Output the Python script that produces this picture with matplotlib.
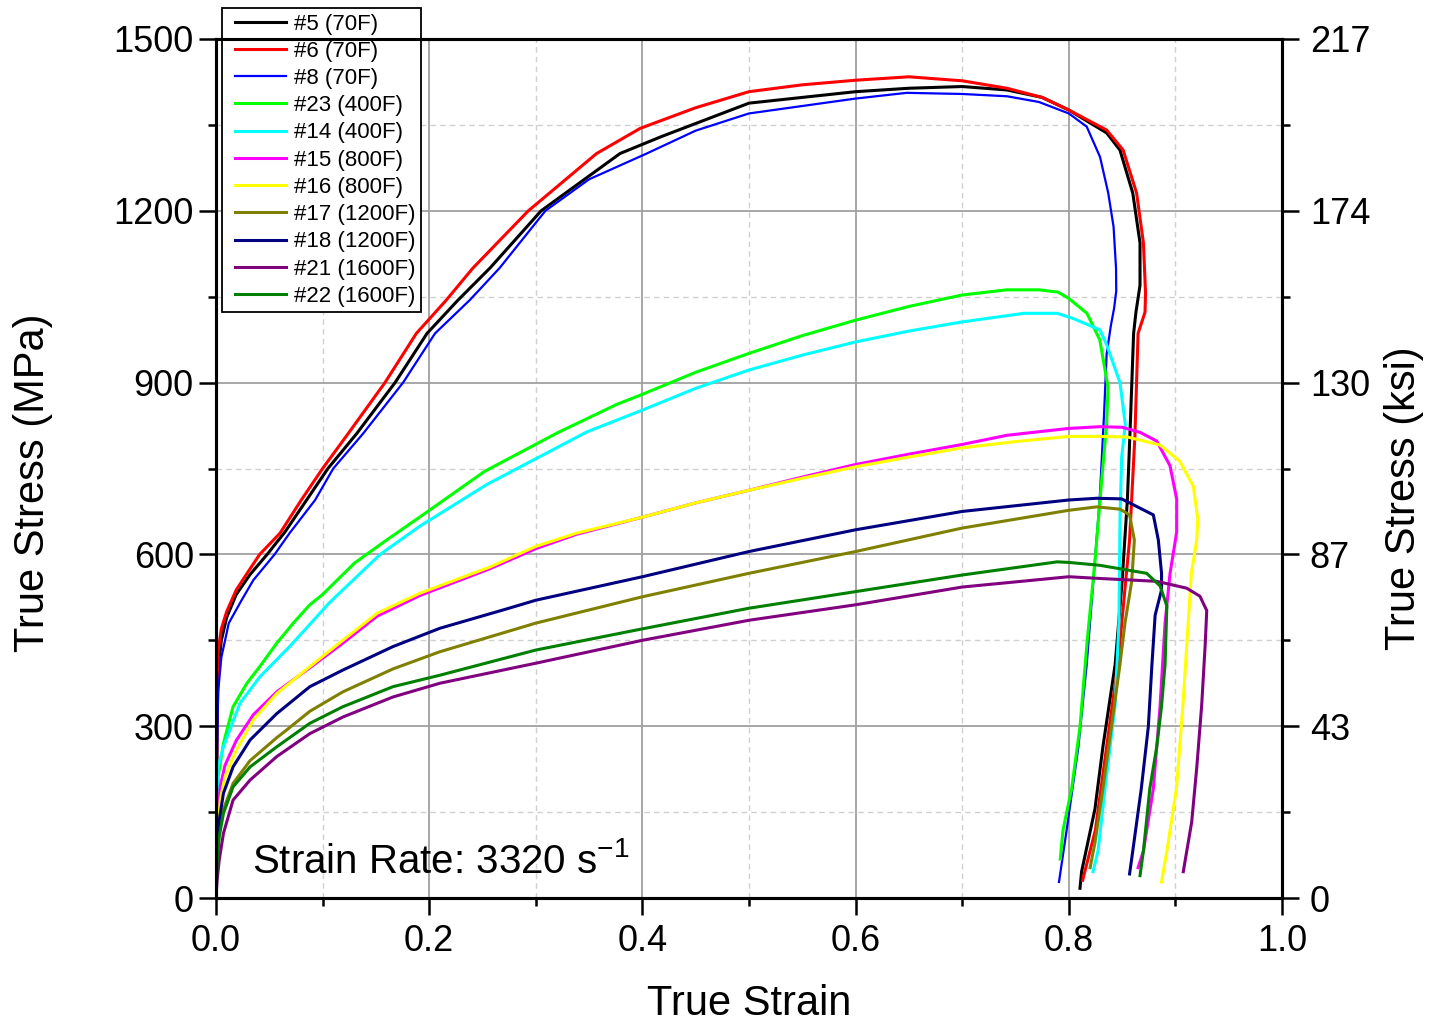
import matplotlib
matplotlib.use("Agg")
import matplotlib.pyplot as plt
from matplotlib.ticker import MultipleLocator, FixedLocator, FixedFormatter
from matplotlib.legend_handler import HandlerLine2D

plt.rcParams['font.family'] = ['Liberation Sans', 'DejaVu Sans']
plt.rcParams['mathtext.default'] = 'regular'
plt.rcParams['axes.unicode_minus'] = False

# ---- data (true strain, true stress MPa) ----
labels = ["#5 (70F)", "#6 (70F)", "#8 (70F)", "#23 (400F)", "#14 (400F)", "#15 (800F)",
          "#16 (800F)", "#17 (1200F)", "#18 (1200F)", "#21 (1600F)", "#22 (1600F)"]
colors = ["#000000", "#ff0000", "#0000ff", "#00ff00", "#00ffff", "#ff00ff",
          "#ffff00", "#808000", "#000080", "#800080", "#008000"]

s5 = [0, 0.001, 0.002, 0.005, 0.010, 0.019, 0.032, 0.048, 0.065, 0.085,
      0.105, 0.132, 0.168, 0.198, 0.227, 0.257, 0.305, 0.379, 0.417, 0.5,
      0.6, 0.65, 0.7, 0.742, 0.775, 0.8, 0.8355, 0.848, 0.86, 0.8668,
      0.8668, 0.863, 0.8608, 0.858, 0.855, 0.85, 0.8435, 0.832, 0.8245, 0.812, 0.8105]
t5 = [0, 300, 400, 450, 490, 530, 565, 600, 640, 695,
      750, 811, 900, 986, 1044, 1100, 1200, 1300, 1329, 1388,
      1408, 1414, 1417, 1411, 1398, 1376, 1336, 1306, 1231, 1144,
      1070, 1023, 986, 842, 697, 553, 408, 264, 155, 46, 17]

s6 = [0, 0.001, 0.002, 0.005, 0.010, 0.019, 0.032, 0.041, 0.06, 0.08,
      0.1, 0.124, 0.1585, 0.188, 0.216, 0.241, 0.293, 0.357, 0.398, 0.45,
      0.5, 0.55, 0.6, 0.65, 0.7, 0.742, 0.775, 0.8, 0.8355, 0.851,
      0.8636, 0.87, 0.872, 0.8715, 0.865, 0.862, 0.857, 0.846, 0.8355, 0.825, 0.815, 0.813]
t6 = [0, 330, 430, 470, 500, 538, 575, 600, 637, 695,
      750, 811, 900, 986, 1044, 1100, 1200, 1300, 1344, 1380,
      1408, 1420, 1428, 1434, 1427, 1414, 1398, 1376, 1341, 1306,
      1231, 1144, 1056, 1023, 986, 806, 625, 408, 264, 119, 46, 31]

s8 = [0, 0.001, 0.002, 0.005, 0.012, 0.024, 0.035, 0.055, 0.069, 0.093,
      0.11, 0.138, 0.1755, 0.2055, 0.238, 0.266, 0.309, 0.35, 0.404, 0.45,
      0.5, 0.6, 0.648, 0.7, 0.742, 0.772, 0.8, 0.8168, 0.8293, 0.837,
      0.842, 0.8443, 0.8445, 0.8425, 0.8395, 0.8355, 0.833, 0.829, 0.823, 0.8168, 0.809, 0.798, 0.7908]
t8 = [0, 250, 360, 420, 480, 520, 555, 600, 637, 695,
      750, 811, 900, 986, 1044, 1100, 1200, 1255, 1300, 1340,
      1370, 1396, 1406, 1404, 1400, 1390, 1370, 1347, 1294, 1231,
      1172, 1100, 1060, 1030, 1000, 950, 842, 697, 553, 408, 264, 119, 28]

s23 = [0, 0.002, 0.007, 0.016, 0.029, 0.041, 0.057, 0.0725, 0.088, 0.1,
       0.13, 0.16, 0.191, 0.252, 0.32, 0.376, 0.398, 0.45, 0.5, 0.55,
       0.6, 0.65, 0.7, 0.742, 0.772, 0.79, 0.8, 0.817, 0.829, 0.8368,
       0.8355, 0.831, 0.8246, 0.817, 0.8105, 0.8027, 0.7946, 0.792]
t23 = [0, 212, 270, 334, 375, 404, 445, 480, 512, 530,
       585, 625, 665, 745, 812, 862, 878, 918, 951, 982,
       1009, 1033, 1053, 1062, 1062, 1058, 1047, 1021, 975, 892,
       827, 733, 589, 444, 299, 191, 119, 68]

s14 = [0, 0.002, 0.007, 0.0225, 0.041, 0.069, 0.094, 0.106, 0.154, 0.191,
       0.254, 0.348, 0.4, 0.45, 0.5, 0.55, 0.6, 0.65, 0.7, 0.758,
       0.789, 0.804, 0.8293, 0.8355, 0.848, 0.853, 0.8496, 0.848, 0.847, 0.8434,
       0.834, 0.8274, 0.8227]
t14 = [0, 229, 264, 340, 386, 439, 490, 515, 600, 649,
       722, 814, 852, 890, 922, 948, 971, 990, 1006, 1021,
       1021, 1012, 992, 966, 900, 827, 770, 662, 480, 335,
       191, 82, 46]

s15 = [0, 0.001, 0.004, 0.0085, 0.019, 0.035, 0.057, 0.088, 0.119, 0.151,
       0.191, 0.257, 0.3, 0.338, 0.4, 0.45, 0.5, 0.55, 0.6, 0.65,
       0.7, 0.742, 0.8, 0.829, 0.85, 0.867, 0.8824, 0.8949, 0.9012, 0.9012,
       0.895, 0.8903, 0.8856, 0.8793, 0.87, 0.865]
t15 = [0, 120, 195, 232, 275, 320, 360, 402, 445, 492,
       528, 575, 610, 635, 665, 690, 712, 735, 757, 775,
       792, 808, 820, 823, 822, 813, 798, 755, 697, 639,
       567, 480, 335, 191, 82, 53]

s16 = [0, 0.001, 0.004, 0.0085, 0.019, 0.035, 0.057, 0.088, 0.119, 0.151,
       0.191, 0.257, 0.3, 0.338, 0.4, 0.45, 0.5, 0.55, 0.6, 0.65,
       0.7, 0.75, 0.8, 0.829, 0.855, 0.8856, 0.904, 0.9168, 0.921, 0.92,
       0.915, 0.912, 0.907, 0.901, 0.892, 0.887]
t16 = [0, 100, 171, 212, 258, 311, 357, 404, 450, 497,
       532, 578, 614, 637, 665, 690, 712, 733, 753, 770,
       786, 797, 806, 806, 805, 791, 763, 719, 662, 625,
       567, 480, 335, 191, 82, 28]

s17 = [0, 0.001, 0.003, 0.007, 0.016, 0.032, 0.057, 0.066, 0.088, 0.119,
       0.166, 0.21, 0.3, 0.4, 0.5, 0.6, 0.7, 0.8, 0.826, 0.848,
       0.857, 0.8615, 0.859, 0.8527, 0.848, 0.84, 0.832, 0.8246, 0.82]
t17 = [0, 70, 115, 155, 200, 240, 280, 293, 326, 360,
       400, 430, 480, 526, 567, 605, 646, 677, 683, 679,
       669, 625, 553, 480, 408, 299, 191, 97, 53]

s18 = [0, 0.001, 0.003, 0.007, 0.016, 0.032, 0.057, 0.088, 0.119, 0.166,
       0.21, 0.273, 0.3, 0.4, 0.5, 0.6, 0.7, 0.8, 0.826, 0.8495,
       0.8793, 0.884, 0.887, 0.887, 0.881, 0.878, 0.8746, 0.868, 0.86, 0.857]
t18 = [0, 80, 136, 183, 229, 276, 322, 369, 398, 439,
       471, 505, 520, 561, 605, 643, 675, 695, 698, 697,
       669, 625, 567, 538, 494, 408, 299, 191, 82, 42]

s21 = [0, 0.001, 0.003, 0.007, 0.016, 0.032, 0.057, 0.088, 0.119, 0.166,
       0.21, 0.3, 0.4, 0.5, 0.6, 0.7, 0.8, 0.829, 0.8825, 0.9106,
       0.923, 0.9294, 0.928, 0.9246, 0.92, 0.9153, 0.9074]
t21 = [0, 30, 66, 113, 171, 206, 247, 287, 316, 351,
       375, 410, 450, 485, 512, 543, 561, 558, 553, 541,
       527, 502, 444, 335, 227, 133, 46]

s22 = [0, 0.001, 0.003, 0.007, 0.016, 0.032, 0.057, 0.088, 0.119, 0.166,
       0.21, 0.3, 0.4, 0.5, 0.6, 0.7, 0.789, 0.8, 0.829, 0.851,
       0.873, 0.8856, 0.892, 0.8903, 0.887, 0.8825, 0.876, 0.87, 0.8668]
t22 = [0, 60, 107, 148, 194, 229, 264, 305, 334, 369,
       389, 433, 470, 506, 535, 564, 587, 586, 581, 574,
       567, 545, 510, 408, 335, 264, 191, 82, 39]

strains = [s5, s6, s8, s23, s14, s15, s16, s17, s18, s21, s22]
stresses = [t5, t6, t8, t23, t14, t15, t16, t17, t18, t21, t22]
widths = [2.2, 2.2, 1.6, 2.2, 2.2, 2.2, 2.2, 2.2, 2.2, 2.2, 2.2]

x_ticks = [0.0, 0.2, 0.4, 0.6, 0.8, 1.0]
y_ticks = [0, 300, 600, 900, 1200, 1500]
ksi_labels = ["0", "43", "87", "130", "174", "217"]

# ---- figure ----
fig = plt.figure(figsize=(14.35, 10.25), dpi=100)
ax = fig.add_axes([216/1435, 1 - 898/1025, (1282-216)/1435, (898-39)/1025])

lines = []
for s, t, c, lab, w in zip(strains, stresses, colors, labels, widths):
    ln, = ax.plot(s, t, color=c, lw=w, label=lab, solid_joinstyle='round')
    lines.append(ln)

ax.set_xlim(0, 1.0)
ax.set_ylim(0, 1500)
ax.set_xticks(x_ticks)
ax.set_yticks(y_ticks)
ax.xaxis.set_minor_locator(MultipleLocator(0.1))
ax.yaxis.set_minor_locator(MultipleLocator(150))
ax.set_xticklabels([f"{v:.1f}" for v in x_ticks])
ax.grid(True, which='major', color='#a0a0a0', lw=1.3, ls='-')
ax.grid(True, which='minor', color='#d0d0d0', lw=1.0, ls=(0, (4, 3)))
ax.set_axisbelow(True)

for sp in ax.spines.values():
    sp.set_linewidth(2.2)
ax.tick_params(which='major', direction='out', length=12, width=1.8, labelsize=26, pad=4,
               top=False, right=False)
ax.tick_params(which='minor', direction='out', length=6, width=1.8, top=False, right=False)
ax.tick_params(axis='x', which='major', pad=7)

ax.set_xlabel("True Strain", fontsize=30)
ax.xaxis.set_label_coords(0.5, (898 - 984) / 859)
ax.set_ylabel("True Stress (MPa)", fontsize=30)
ax.yaxis.set_label_coords((53 - 216) / 1066, (898 - 483) / 859)

ax2 = ax.twinx()
ax2.set_ylim(0, 1500)
ax2.yaxis.set_major_locator(FixedLocator(y_ticks))
ax2.yaxis.set_major_formatter(FixedFormatter(ksi_labels))
ax2.yaxis.set_minor_locator(MultipleLocator(150))
ax2.tick_params(which='major', direction='out', length=12, width=1.8, labelsize=26, pad=8)
ax2.tick_params(which='minor', direction='out', length=6, width=1.8)
for sp in ax2.spines.values():
    sp.set_linewidth(2.2)
ax2.set_ylabel("True Stress (ksi)", fontsize=30)
ax2.yaxis.set_label_coords(1 + (1384 - 1282) / 1066, (898 - 498) / 859)

ax.text(0.034, 44, r"Strain Rate: 3320 s$^{-1}$", fontsize=29, ha='left', va='baseline')

leg = ax.legend(handles=lines, loc='upper left',
                bbox_to_anchor=((222 - 216) / 1066, (898 - 8) / 859),
                borderaxespad=0, fontsize=16, frameon=True, fancybox=False,
                edgecolor='black', framealpha=1, handlelength=3.0, handletextpad=-0.02,
                labelspacing=0.28, borderpad=0.25,
                handler_map={ln: HandlerLine2D(numpoints=2, marker_pad=0.35) for ln in lines})
leg.get_frame().set_linewidth(1.3)
leg.set_zorder(10)

fig.savefig("out.png", dpi=100)
